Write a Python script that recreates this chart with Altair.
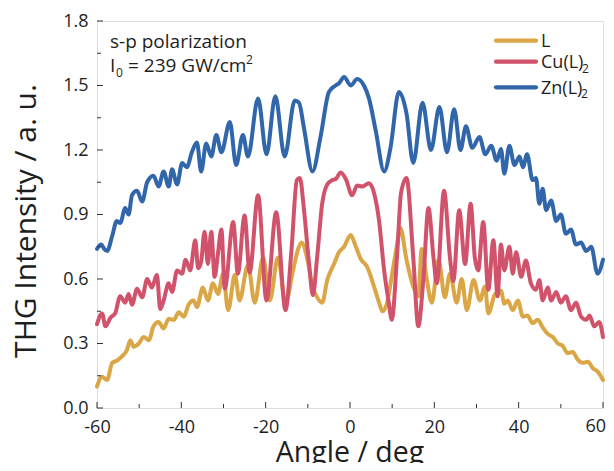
import altair as alt
import pandas as pd

# ---------------- data ----------------
L_angle = [-60, -58.8, -57.6, -56.4, -55.3, -54.1, -52.9, -52.1, -51.3, -50.1,
           -48.9, -47.7, -46.6, -45.4, -44.2, -43, -41.8, -40.6, -39.4, -38.3,
           -37.1, -36.3, -34.9, -33.7, -32.5, -31.3, -30.1, -28.9, -27.3, -26.2,
           -24.2, -22.6, -20.6, -19, -17.1, -15.3, -13.5, -12.3, -11.5, -10.1,
           -8.9, -7.8, -6.6, -5.4, -3.8, -2.6, -1.4, 0.15, 1.3, 2.5,
           4.1, 5.7, 6.9, 7.7, 8.8, 10, 11.2, 11.9, 13.4, 15,
           16.2, 17, 18.2, 19.4, 21, 22.5, 23.7, 25.3, 26.5, 27.7,
           29.3, 30.8, 32, 32.8, 34.4, 35.8, 36.6, 37.4, 38.6, 39.8,
           41, 42.1, 43.3, 44.5, 45.7, 46.9, 48.1, 49.3, 50.4, 51.6,
           52.8, 54, 55.2, 56.4, 57.6, 58.7, 60]
L_value = [0.10, 0.145, 0.13, 0.21, 0.22, 0.24, 0.27, 0.315, 0.285, 0.30,
           0.33, 0.315, 0.38, 0.40, 0.37, 0.415, 0.41, 0.445, 0.425, 0.48,
           0.50, 0.47, 0.56, 0.50, 0.58, 0.53, 0.625, 0.455, 0.62, 0.50,
           0.665, 0.49, 0.70, 0.50, 0.70, 0.49, 0.64, 0.74, 0.77, 0.69,
           0.565, 0.515, 0.49, 0.595, 0.67, 0.725, 0.75, 0.805, 0.755, 0.695,
           0.655, 0.565, 0.49, 0.45, 0.49, 0.625, 0.765, 0.84, 0.69, 0.565,
           0.52, 0.74, 0.60, 0.49, 0.69, 0.515, 0.625, 0.49, 0.60, 0.455,
           0.595, 0.50, 0.565, 0.44, 0.53, 0.545, 0.485, 0.50, 0.455, 0.50,
           0.425, 0.43, 0.395, 0.41, 0.375, 0.345, 0.33, 0.30, 0.29, 0.255,
           0.26, 0.225, 0.21, 0.215, 0.185, 0.17, 0.13]

Cu_angle = [-60, -58.8, -58, -56.8, -55.7, -54.5, -53.3, -52.5, -51.7, -50.5,
            -49.3, -48.1, -47, -45.8, -45, -44.2, -43, -42.2, -41, -39.8,
            -39, -37.9, -36.7, -36, -35.3, -34.5, -33.7, -32.9, -32.1, -31.3,
            -30.5, -29.7, -27.7, -26.6, -25, -23.8, -21.8, -19.8, -17.5, -15.3,
            -13.9, -12.6, -11.9, -10.9, -9.7, -8.8, -7.8, -6.6, -5.4, -4.2,
            -3.4, -2.2, -1, 0.5, 1.7, 2.9, 4.5, 5.7, 6.9, 8.1,
            9.2, 9.9, 11.2, 12.1, 13.4, 15, 16.2, 17.4, 18.6, 19.8,
            20.6, 22.3, 23.7, 24.5, 25.9, 27.3, 28.6, 29.6, 30.4, 31.6,
            32.8, 34, 35, 35.8, 36.6, 37.8, 38.6, 39.4, 40.6, 41.7,
            42.9, 44.1, 44.9, 45.7, 46.9, 47.7, 48.9, 50, 51.2, 52.4,
            53.6, 54.8, 56, 56.8, 57.9, 59.1, 60]
Cu_value = [0.39, 0.44, 0.38, 0.42, 0.44, 0.52, 0.49, 0.53, 0.48, 0.555,
            0.515, 0.60, 0.56, 0.62, 0.46, 0.50, 0.58, 0.54, 0.64, 0.625,
            0.69, 0.64, 0.78, 0.65, 0.68, 0.82, 0.67, 0.82, 0.61, 0.72,
            0.83, 0.555, 0.865, 0.625, 0.895, 0.63, 0.99, 0.50, 0.91, 0.455,
            0.73, 1.06, 1.07, 0.92, 0.67, 0.525, 0.70, 0.95, 1.04, 1.06,
            1.065, 1.095, 1.065, 0.99, 1.035, 1.03, 1.045, 1.0, 0.87, 0.64,
            0.49, 0.41, 0.72, 1.0, 1.07, 0.70, 0.38, 0.60, 0.93, 0.70,
            0.58, 1.01, 0.70, 0.59, 0.92, 0.67, 0.95, 0.70, 0.64, 0.865,
            0.55, 0.78, 0.52, 0.76, 0.64, 0.75, 0.625, 0.725, 0.61, 0.686,
            0.58, 0.55, 0.595, 0.50, 0.56, 0.50, 0.54, 0.49, 0.52, 0.455,
            0.49, 0.425, 0.41, 0.43, 0.38, 0.40, 0.33]

Zn_angle = [-60, -59, -58.3, -57.6, -56.4, -55.3, -54.5, -53.3, -52.5, -51.7,
            -50.5, -49.3, -48.1, -46.6, -45.4, -44.2, -43, -42.2, -41, -39.8,
            -38.7, -37.5, -36.3, -35.3, -34.1, -32.9, -31.7, -30.5, -28.5, -27,
            -25.4, -24.2, -21.8, -19.8, -17.7, -15.5, -13.1, -12.1, -10.9, -8.9,
            -7, -5, -3.4, -2.6, -1.4, 0.15, 1.7, 3.3, 4.5, 6.1,
            8.1, 9.6, 11.6, 13.4, 15, 17.2, 19.2, 21.2, 23, 24.7,
            26.2, 27.5, 29, 30.7, 32.1, 33.5, 34.8, 35.8, 36.6, 37.8,
            39, 40.2, 41, 42, 43.3, 44.1, 44.9, 45.7, 46.5, 47.7,
            48.9, 50, 51.2, 52.4, 53.6, 54.8, 56, 57.2, 58.7, 60]
Zn_value = [0.74, 0.76, 0.74, 0.73, 0.80, 0.87, 0.86, 0.93, 0.90, 0.99,
            1.01, 0.96, 1.05, 1.08, 1.03, 1.10, 1.03, 1.11, 1.04, 1.14,
            1.12, 1.19, 1.235, 1.10, 1.23, 1.17, 1.27, 1.19, 1.33, 1.13,
            1.27, 1.17, 1.44, 1.18, 1.45, 1.17, 1.43, 1.42, 1.30, 1.10,
            1.26, 1.47, 1.50, 1.51, 1.54, 1.50, 1.53, 1.50, 1.44, 1.29,
            1.10, 1.21, 1.47, 1.37, 1.14, 1.42, 1.20, 1.40, 1.19, 1.39,
            1.20, 1.31, 1.21, 1.26, 1.18, 1.22, 1.15, 1.205, 1.09, 1.22,
            1.13, 1.17, 1.12, 1.18, 1.06, 1.07, 0.95, 1.02, 0.92, 0.965,
            0.87, 0.90, 0.81, 0.83, 0.76, 0.77, 0.73, 0.75, 0.625, 0.69]

series_names = ["L", "Cu(L)2", "Zn(L)2"]
series_colors = ["#DAA646", "#D1536B", "#3166AB"]

x_major = [-60, -40, -20, 0, 20, 40, 60]
x_minor = [-50, -30, -10, 10, 30, 50]
y_major = [0.0, 0.3, 0.6, 0.9, 1.2, 1.5, 1.8]
y_minor = [0.15, 0.45, 0.75, 1.05, 1.35, 1.65]

# ---------------- chart ----------------
W, H = 506, 387
FONT = "Open Sans"
TXT = "#1e1e1e"
LABEL_PAD = 10

xs = alt.Scale(domain=[-60, 60], nice=False, zero=False)
ys = alt.Scale(domain=[0, 1.8], nice=False, zero=False)

# the last label (60) is drawn separately so that it stays inside the page
x_axis = alt.Axis(values=x_major, labelExpr="datum.value == 60 ? '' : '' + datum.value",
                  ticks=False, domain=False,
                  grid=False, title=None, labelFont=FONT, labelFontSize=18,
                  labelColor=TXT, labelPadding=LABEL_PAD, labelFlush=False)
y_axis = alt.Axis(values=y_major, format=".1f", ticks=False, domain=False,
                  grid=False, title=None, labelFont=FONT, labelFontSize=18,
                  labelColor=TXT, labelPadding=9)


def series_layer(name, ang, val, color):
    d = pd.DataFrame({"angle": ang, "value": val, "series": name})
    return alt.Chart(d).mark_line(
        strokeWidth=4, interpolate="monotone", strokeJoin="round", strokeCap="round",
        color=color,
    ).encode(
        x=alt.X("angle:Q", scale=xs, axis=x_axis),
        y=alt.Y("value:Q", scale=ys, axis=y_axis),
    )


layers = [
    series_layer("L", L_angle, L_value, series_colors[0]),
    series_layer("Cu(L)2", Cu_angle, Cu_value, series_colors[1]),
    series_layer("Zn(L)2", Zn_angle, Zn_value, series_colors[2]),
]

TICK = "#333333"
def xticks(vals, length):
    return alt.Chart(pd.DataFrame({"angle": vals})).mark_rule(color=TICK, strokeWidth=1).encode(
        x=alt.X("angle:Q", scale=xs, axis=x_axis),
        y=alt.value(H), y2=alt.value(H - length))

def yticks(vals, length):
    return alt.Chart(pd.DataFrame({"value": vals})).mark_rule(color=TICK, strokeWidth=1).encode(
        y=alt.Y("value:Q", scale=ys, axis=y_axis),
        x=alt.value(0), x2=alt.value(length))

layers += [xticks(x_major, 6), xticks(x_minor, 4), yticks(y_major, 6), yticks(y_minor, 4)]

# last x tick label
layers.append(
    alt.Chart(pd.DataFrame({"angle": [x_major[-1]]})).mark_text(
        font=FONT, fontSize=18, color=TXT, align="right", baseline="top", dx=3
    ).encode(x=alt.X("angle:Q", scale=xs, axis=x_axis), y=alt.value(H + LABEL_PAD),
             text=alt.Text("angle:Q", format="d"))
)

one = pd.DataFrame({"k": [0]})

def label(text, x, y, size=18, angle=0, align="left", baseline="alphabetic"):
    return alt.Chart(one).mark_text(
        font=FONT, fontSize=size, color=TXT, align=align, baseline=baseline, angle=angle
    ).encode(x=alt.value(x), y=alt.value(y), text=alt.value(text))

# annotation
layers += [
    label("s-p polarization", 13, 27, size=19),
    label("I", 13, 51, size=19),
    label("0", 19, 56, size=12),
    label("= 239 GW/cm", 31, 51, size=19),
    label("2", 149, 43, size=12),
]

# legend
leg_y = [19.7, 40.7, 66.3]
leg_text = ["L", "Cu(L)", "Zn(L)"]
leg_sub_x = [None, 485, 484]
for i in range(3):
    layers.append(
        alt.Chart(one).mark_rule(color=series_colors[i], strokeWidth=4.2, strokeCap="round").encode(
            x=alt.value(399), x2=alt.value(439), y=alt.value(leg_y[i]))
    )
    layers.append(label(leg_text[i], 444, leg_y[i] + 6.5))
    if leg_sub_x[i] is not None:
        layers.append(label("2", leg_sub_x[i], leg_y[i] + 11, size=12))

# axis titles
layers += [
    label("THG Intensity / a. u.", -70, 200, size=30, angle=270, align="center", baseline="middle"),
    label("Angle / deg", W / 2, 440.5, size=28.5, align="center"),
]

chart = alt.layer(*layers).properties(
    width=W, height=H,
    padding={"left": 89, "top": 13, "right": 3, "bottom": 55},
    autosize=alt.AutoSizeParams(type="none"),
).configure_view(stroke="#333333", strokeWidth=1.2).configure(background="white")

chart.save("out.html", embed_options={"renderer": "svg", "actions": False})
